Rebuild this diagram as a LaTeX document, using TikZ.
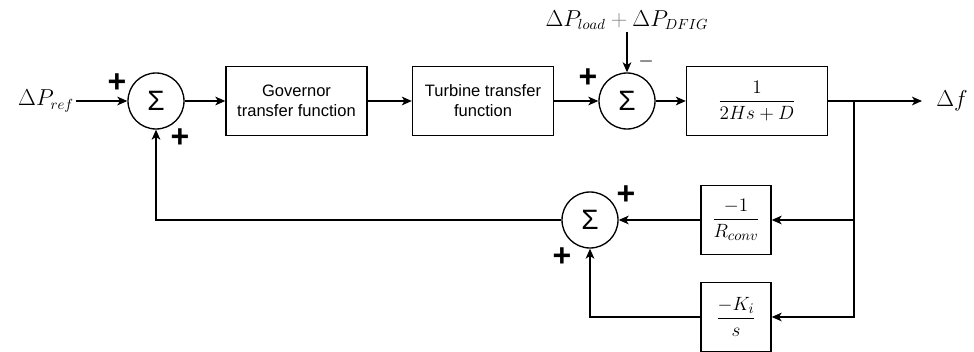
\documentclass[tikz,border=0pt]{standalone}
\usepackage{fontspec}
\usepackage{amsmath}
\usetikzlibrary{arrows.meta}
\newfontfamily\blockfont{Liberation Sans}

\tikzset{every picture/.style={line width=1pt}}
\tikzset{
	blk/.style={draw, minimum width=105.75pt, minimum height=51.75pt, inner sep=0pt, align=center, font=\blockfont\fontsize{12.4}{15}\selectfont},
	gain/.style={draw, minimum width=52.5pt, minimum height=51.75pt, inner sep=0pt, font=\fontsize{15.5}{18}\selectfont},
	sumnode/.style={draw, circle, minimum size=42pt, inner sep=0pt, font=\blockfont\fontsize{21}{21}\selectfont},
	sgn/.style={inner sep=0pt, font=\blockfont\bfseries\fontsize{24}{24}\selectfont},
	lbl/.style={inner sep=1pt, font=\fontsize{16}{18}\selectfont},
	sig/.style={-{Stealth[length=7.5pt,width=6.5pt,inset=2pt]}}
}

\begin{document}
\begin{tikzpicture}[x=0.75pt,y=0.75pt,yscale=-1,xscale=1]
	\useasboundingbox (0,0) rectangle (974,352);

	% Text Node
	\node[lbl] (pref) at (46,101) {$\Delta P_{ref}$};
	%Shape: Circle
	\node[sumnode] (sum1) at (156,101) {Σ};
	%Shape: Rectangle
	\node[blk] (gov) at (296.5,101) {Governor\\transfer function};
	%Shape: Rectangle
	\node[blk] (tur) at (483,101) {Turbine transfer\\function};
	%Shape: Circle
	\node[sumnode] (sum2) at (627,101) {Σ};
	%Shape: Rectangle
	\node[blk, font=\fontsize{15.5}{18}\selectfont] (swing) at (757,101) {$\dfrac{1}{2Hs+D}$};
	% Text Node
	\node[lbl] (dist) at (627,20) {$\Delta P_{load} \mathbin{\color{gray}+} \Delta P_{DFIG}$};
	% Text Node
	\node[lbl] (df) at (952,101) {$\Delta f$};
	\coordinate (tip) at (922,101);
	\coordinate (br) at (854,101);

	%Shape: Rectangle
	\node[gain] (rconv) at (736,220) {$\dfrac{-1}{R_{conv}}$};
	%Shape: Rectangle
	\node[gain] (ki) at (736,317) {$\dfrac{-K_i}{s}$};
	%Shape: Circle
	\node[sumnode] (sum3) at (590,220) {Σ};

	% Signs
	\node[sgn] (s1a) at (117,83) {+};
	\node[sgn] (s1b) at (180,138) {+};
	\node[sgn] (s2a) at (588,78) {+};
	\node[sgn, font=\blockfont\fontsize{18}{18}\selectfont, text=gray] (s2b) at (646,65) {−};
	\node[sgn] (s3a) at (626,195) {+};
	\node[sgn] (s3b) at (562,257) {+};

	%Straight Lines
	\draw[sig] (pref) -- (sum1);
	\draw[sig] (sum1) -- (gov);
	\draw[sig] (gov) -- (tur);
	\draw[sig] (tur) -- (sum2);
	\draw[sig] (dist) -- (sum2);
	\draw[sig] (sum2) -- (swing);
	\draw[sig] (swing) -- (tip);
	%Feedback Lines
	\draw[sig] (br) |- (rconv);
	\draw[sig] (br) |- (ki);
	\draw[sig] (rconv) -- (sum3);
	\draw[sig] (ki) -| (sum3);
	\draw[sig] (sum3) -| (sum1);

\end{tikzpicture}
\end{document}
